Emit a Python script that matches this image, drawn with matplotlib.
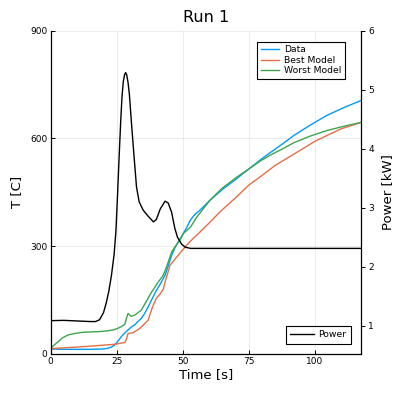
import matplotlib
matplotlib.use("Agg")
import matplotlib.pyplot as plt

# ---- data ----
t_data = [0, 5, 10, 15, 20, 21.7, 23, 24.2, 25.5, 26.7, 28, 29.3, 30.5, 31.8, 33, 34.3,
          35.5, 36.9, 38.5, 40.1, 41.5, 43.3, 44.5, 45.8, 47, 48.3, 50, 51.5, 52.8, 54.5,
          56.6, 60.3, 65, 70.4, 75, 79.3, 83, 88, 92, 98, 104.5, 111, 117.6]
T_data = [14, 13, 13, 13, 14, 16, 19, 25, 36, 48, 58, 67, 75, 81, 90, 99,
          112, 131, 155, 178, 195, 219, 245, 275, 295, 312, 333, 352, 372, 388,
          401, 428, 458, 488, 515, 540, 560, 586, 608, 636, 664, 686, 706]

t_best = [0, 11.6, 24.2, 28.1, 28.6, 29.3, 31.2, 33.7, 36.9, 38.5, 40, 41.5, 42.6, 43.5,
          45.2, 47.7, 51.5, 54, 56.6, 61, 64, 70, 75, 80, 85, 92, 100, 104.5, 110, 117.6]
T_best = [15, 20, 27, 32, 40, 57, 59, 71, 94, 130, 155, 168, 180, 205,
          247, 270, 303, 322, 340, 372, 395, 435, 470, 497, 525, 556, 592, 608, 627, 645]

t_worst = [0, 1.5, 2.8, 4.5, 6.6, 9, 11.6, 15, 17.9, 21, 23.6, 25, 26.7, 28.1, 28.7, 29.3,
           30, 30.5, 32, 34.3, 36.9, 38, 39.1, 40.5, 42.6, 44, 45.8, 47.5, 49, 50.2, 53,
           55.3, 60.3, 65, 70.4, 75, 79.3, 83, 88, 92, 98, 104.5, 111, 117.6]
T_worst = [16, 26, 34, 45, 53, 57, 60, 61.5, 62, 64, 67, 70, 76, 83, 100, 113,
           108, 105, 109, 122, 155, 170, 182, 198, 219, 245, 284, 303, 317, 335, 354,
           381, 428, 462, 492, 515, 537, 553, 572, 588, 606, 622, 634, 645]

t_power = [0, 5, 10, 15, 17, 18.5, 20, 21, 22, 23, 24, 24.7, 25.3, 26, 26.5, 27, 27.5,
           28, 28.4, 28.8, 29.3, 29.8, 30.7, 31.6, 32.5, 33.5, 35, 37, 38.9, 40, 41.5,
           43.3, 44.5, 45.8, 47, 48, 49.6, 51, 53, 60, 70, 80, 90, 100, 110, 117.6]
P_power = [1.085, 1.09, 1.08, 1.07, 1.07, 1.10, 1.22, 1.38, 1.58, 1.85, 2.2, 2.6, 3.2,
           3.95, 4.45, 4.88, 5.14, 5.26, 5.29, 5.25, 5.12, 4.92, 4.37, 3.85, 3.35, 3.10,
           2.96, 2.85, 2.76, 2.80, 2.98, 3.11, 3.08, 2.92, 2.65, 2.50, 2.38, 2.33, 2.31,
           2.31, 2.31, 2.31, 2.31, 2.31, 2.31, 2.31]

x_ticks = [0, 25, 50, 75, 100]
T_ticks = [0, 300, 600, 900]
P_ticks = [1, 2, 3, 4, 5, 6]

# ---- figure ----
fig = plt.figure(figsize=(3.99, 3.99), dpi=100)
ax = fig.add_axes([0.127, 0.1128, 0.7785, 0.8102])
ax2 = ax.twinx()

c_blue, c_orange, c_green = "#009AFA", "#E36F47", "#3EA44E"
lw = 1.0
ax.plot(t_data, T_data, color=c_blue, lw=lw, label="Data")
ax.plot(t_best, T_best, color=c_orange, lw=lw, label="Best Model")
ax.plot(t_worst, T_worst, color=c_green, lw=lw, label="Worst Model")
ax2.plot(t_power, P_power, color="black", lw=lw, label="Power")

ax.set_xlim(0, 117.6)
ax.set_ylim(0, 900)
ax2.set_ylim(0.52, 6.0)
ax.set_xticks(x_ticks)
ax.set_yticks(T_ticks)
ax2.set_yticks(P_ticks)

ax.grid(True, color="black", alpha=0.1, lw=0.5)
for a in (ax, ax2):
    a.spines["top"].set_visible(False)
ax.spines["right"].set_visible(False)
ax2.spines["left"].set_visible(False)
ax2.spines["bottom"].set_visible(False)
for s in ("left", "bottom"):
    ax.spines[s].set_linewidth(0.9)
ax2.spines["right"].set_linewidth(0.9)

ax.tick_params(direction="in", length=3, width=0.7, labelsize=6.5, pad=2.5)
ax2.tick_params(direction="out", length=3, width=0.7, labelsize=6.5, pad=2)

ax.set_xlabel("Time [s]", fontsize=9.5, labelpad=1)
ax.set_ylabel("T [C]", fontsize=9.5, labelpad=5)
ax2.set_ylabel("Power [kW]", fontsize=9.5, labelpad=5)
ax.set_title("Run 1", fontsize=11.5, pad=6)

leg1 = ax.legend(loc="upper right", bbox_to_anchor=(0.9475, 0.966), borderaxespad=0,
                 fontsize=6.7, fancybox=False, edgecolor="black", framealpha=1,
                 handlelength=2.0, labelspacing=0.15, borderpad=0.4, handletextpad=0.5)
leg1.get_frame().set_linewidth(0.8)
leg2 = ax2.legend(loc="lower right", bbox_to_anchor=(0.967, 0.031), borderaxespad=0,
                  fontsize=6.7, fancybox=False, edgecolor="black", framealpha=1,
                  handlelength=2.5, borderpad=0.5, handletextpad=0.5)
leg2.get_frame().set_linewidth(0.8)

fig.savefig("out.png", dpi=100)
